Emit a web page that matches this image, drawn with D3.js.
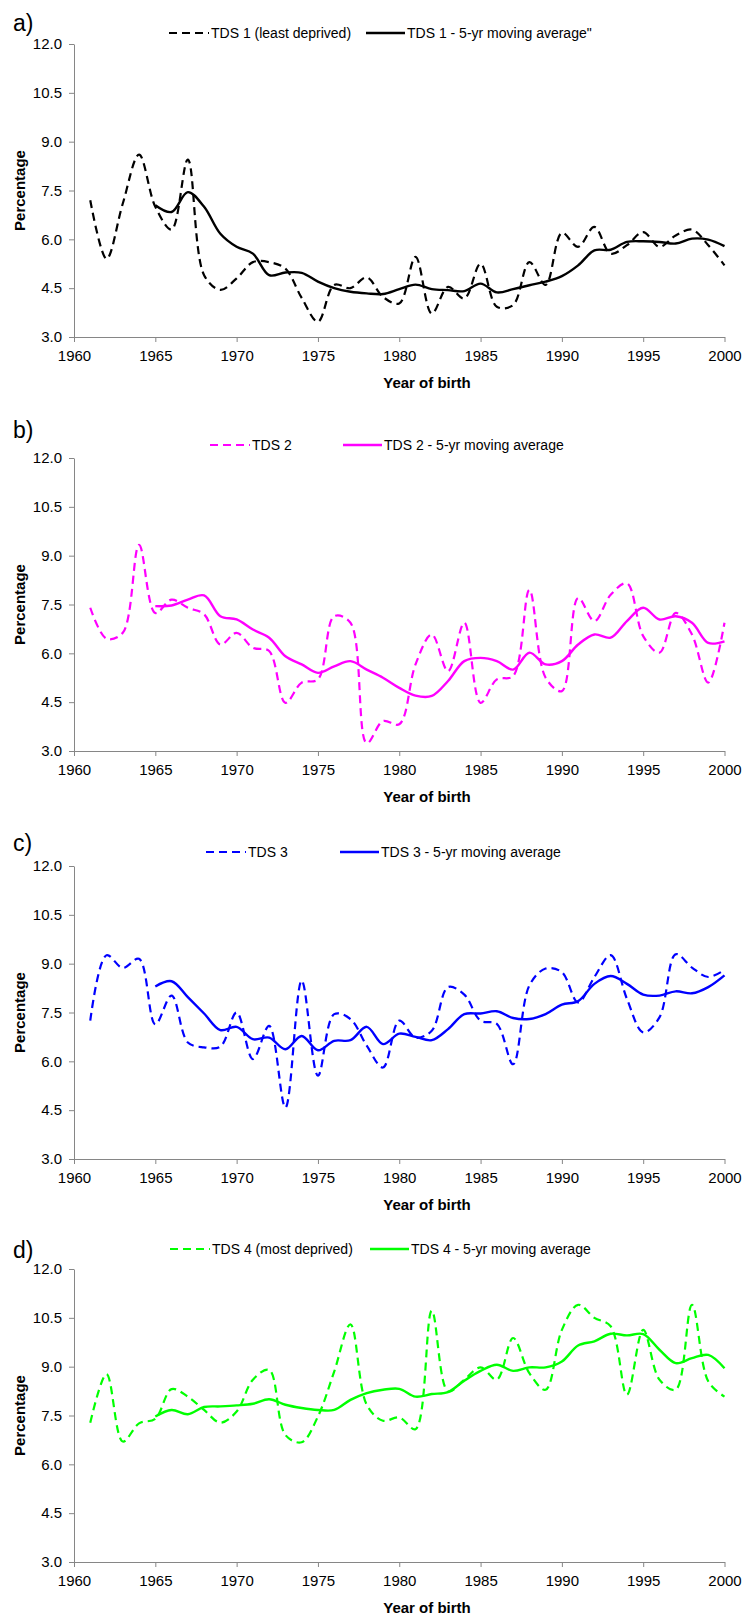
<!DOCTYPE html>
<html>
<head>
<meta charset="utf-8">
<script src="https://cdn.jsdelivr.net/npm/d3@7"></script>
<style>
  body { margin: 0; background: #fff; }
  text { font-family: "Liberation Sans", Arial, sans-serif; }
</style>
</head>
<body>
<div id="chart"></div>
<script>
// Categories
var years = d3.range(1961, 2001);
var maYears = d3.range(1965, 2001);
var xTicks = [1960, 1965, 1970, 1975, 1980, 1985, 1990, 1995, 2000];
var yTicks = [3.0, 4.5, 6.0, 7.5, 9.0, 10.5, 12.0];

// TDS 1 (least deprived)
var tds1 = [7.2, 5.4, 7.1, 8.6, 7.0, 6.3, 8.45, 4.9, 4.45, 4.8,
            5.3, 5.3, 5.1, 4.2, 3.47, 4.6, 4.5, 4.83, 4.23, 4.03,
            5.46, 3.72, 4.54, 4.18, 5.25, 3.93, 3.98, 5.3, 4.6, 6.2,
            5.77, 6.38, 5.56, 5.82, 6.22, 5.77, 6.12, 6.3, 5.82, 5.2];
var tds1Avg = [7.05, 6.84, 7.45, 7.0, 6.17, 5.77, 5.56, 4.9, 4.98, 4.97,
               4.7, 4.5, 4.39, 4.34, 4.32, 4.47, 4.61, 4.47, 4.44, 4.41,
               4.64, 4.37, 4.47, 4.59, 4.7, 4.87, 5.2, 5.66, 5.68, 5.92,
               5.94, 5.92, 5.87, 6.02, 5.99, 5.79];

// TDS 2
var tds2 = [7.4, 6.45, 6.63, 9.33, 7.24, 7.65, 7.4, 7.2, 6.27, 6.63,
            6.17, 6.07, 4.48, 5.1, 5.2, 7.14, 6.94, 3.24, 3.92, 3.82,
            5.66, 6.58, 5.45, 6.94, 4.48, 5.2, 5.3, 7.95, 5.25, 4.84,
            7.7, 6.99, 7.8, 8.15, 6.53, 6.02, 7.24, 6.58, 5.1, 6.94];
var tds2Avg = [7.45, 7.47, 7.65, 7.78, 7.14, 7.04, 6.73, 6.48, 5.91, 5.66,
               5.4, 5.6, 5.76, 5.5, 5.25, 4.94, 4.7, 4.69, 5.15, 5.76,
               5.86, 5.76, 5.5, 6.02, 5.66, 5.76, 6.27, 6.58, 6.48, 6.99,
               7.4, 7.04, 7.14, 6.94, 6.32, 6.37];

// TDS 3
var tds3 = [7.25, 9.26, 8.87, 9.15, 7.14, 8.02, 6.58, 6.43, 6.45, 7.5,
            6.07, 7.09, 4.58, 8.48, 5.56, 7.45, 7.3, 6.48, 5.81, 7.25,
            6.73, 6.94, 8.28, 8.05, 7.25, 7.15, 5.91, 8.33, 8.85, 8.74,
            7.81, 8.59, 9.26, 7.92, 6.89, 7.35, 9.29, 8.88, 8.59, 8.81];
var tds3Avg = [8.3, 8.46, 7.97, 7.47, 6.96, 7.06, 6.68, 6.73, 6.37, 6.78,
               6.34, 6.63, 6.65, 7.06, 6.53, 6.85, 6.75, 6.65, 6.99, 7.45,
               7.47, 7.54, 7.33, 7.3, 7.45, 7.74, 7.85, 8.38, 8.62, 8.38,
               8.05, 8.02, 8.15, 8.09, 8.28, 8.64];

// TDS 4 (most deprived)
var tds4 = [7.28, 8.77, 6.7, 7.26, 7.4, 8.31, 8.08, 7.67, 7.28, 7.62,
            8.6, 8.9, 6.9, 6.68, 7.47, 8.85, 10.3, 7.83, 7.34, 7.44,
            7.08, 10.72, 8.24, 8.6, 8.98, 8.6, 9.88, 8.8, 8.29, 10.13,
            10.9, 10.5, 10.24, 8.14, 10.13, 8.6, 8.29, 10.9, 8.55, 8.08];
var tds4Avg = [7.47, 7.67, 7.54, 7.76, 7.78, 7.81, 7.86, 8.0, 7.83, 7.73,
               7.67, 7.67, 7.98, 8.19, 8.29, 8.32, 8.08, 8.16, 8.22, 8.57,
               8.87, 9.06, 8.87, 8.98, 8.98, 9.16, 9.65, 9.78, 10.01, 9.96,
               10.0, 9.52, 9.11, 9.26, 9.36, 8.95];

var panels = [
  {label: "a)", raw: tds1, avg: tds1Avg, color: "#000000",
   rawName: "TDS 1 (least deprived)", avgName: "TDS 1 - 5-yr moving average\"",
   top: 44, labelY: 23, legY: 33, leg: [169, 366]},
  {label: "b)", raw: tds2, avg: tds2Avg, color: "#ff00ff",
   rawName: "TDS 2", avgName: "TDS 2 - 5-yr moving average",
   top: 458, labelY: 430, legY: 445, leg: [210, 343]},
  {label: "c)", raw: tds3, avg: tds3Avg, color: "#0000ff",
   rawName: "TDS 3", avgName: "TDS 3 - 5-yr moving average",
   top: 866, labelY: 843, legY: 852, leg: [206, 340]},
  {label: "d)", raw: tds4, avg: tds4Avg, color: "#00ff00",
   rawName: "TDS 4 (most deprived)", avgName: "TDS 4 - 5-yr moving average",
   top: 1269, labelY: 1250, legY: 1249, leg: [170, 370]}
];

var svgWidth = 745;
var svgHeight = 1615;
var plotLeft = 74;
var plotRight = 724.5;
var plotHeight = 293;
var axisColor = "#868686";

var svg = d3.select("#chart")
    .append("svg")
    .attr("width", svgWidth)
    .attr("height", svgHeight);

var xScale = d3.scaleLinear()
    .domain([1960, 2000])
    .range([plotLeft, plotRight]);

panels.forEach(function(p) {
    var yScale = d3.scaleLinear()
        .domain([3, 12])
        .range([p.top + plotHeight, p.top]);

    var g = svg.append("g");

    // axes
    var leftAxis = d3.axisLeft(yScale)
        .tickValues(yTicks)
        .tickFormat(d3.format(".1f"))
        .tickSize(5)
        .tickSizeOuter(0)
        .tickPadding(7);
    var bottomAxis = d3.axisBottom(xScale)
        .tickValues(xTicks)
        .tickFormat(d3.format("d"))
        .tickSize(5)
        .tickSizeOuter(0)
        .tickPadding(8);

    var ya = g.append("g")
        .attr("transform", `translate(${plotLeft},0)`)
        .call(leftAxis);
    var xa = g.append("g")
        .attr("transform", `translate(0,${p.top + plotHeight})`)
        .call(bottomAxis);

    [ya, xa].forEach(function(a) {
        a.select(".domain").attr("stroke", axisColor);
        a.selectAll(".tick line").attr("stroke", axisColor);
        a.selectAll(".tick text")
            .attr("fill", "#000")
            .style("font-size", "15px")
            .style("font-family", "'Liberation Sans', Arial, sans-serif");
    });

    // axis titles
    g.append("text")
        .attr("transform", `translate(20,${p.top + plotHeight / 2}) rotate(-90)`)
        .attr("text-anchor", "middle")
        .attr("dy", "0.35em")
        .style("font-size", "15px")
        .style("font-weight", "bold")
        .text("Percentage");
    g.append("text")
        .attr("x", 427)
        .attr("y", p.top + plotHeight + 46)
        .attr("text-anchor", "middle")
        .attr("dy", "0.35em")
        .style("font-size", "15px")
        .style("font-weight", "bold")
        .text("Year of birth");

    // panel label
    g.append("text")
        .attr("x", 13)
        .attr("y", p.labelY)
        .attr("dy", "0.35em")
        .style("font-size", "23px")
        .text(p.label);

    // lines
    var rawLine = d3.line()
        .x(function(d, i) { return xScale(years[i]); })
        .y(function(d) { return yScale(d); })
        .curve(d3.curveCatmullRom.alpha(0.5));
    var avgLine = d3.line()
        .x(function(d, i) { return xScale(maYears[i]); })
        .y(function(d) { return yScale(d); })
        .curve(d3.curveCatmullRom.alpha(0.5));

    g.append("path")
        .datum(p.raw)
        .attr("d", rawLine)
        .attr("fill", "none")
        .attr("stroke", p.color)
        .attr("stroke-width", 2.2)
        .attr("stroke-dasharray", "8,5");
    g.append("path")
        .datum(p.avg)
        .attr("d", avgLine)
        .attr("fill", "none")
        .attr("stroke", p.color)
        .attr("stroke-width", 2.4);

    // legend
    var lg = g.append("g").attr("transform", `translate(0,${p.legY})`);
    lg.append("line")
        .attr("x1", p.leg[0]).attr("x2", p.leg[0] + 40)
        .attr("stroke", p.color).attr("stroke-width", 2.2)
        .attr("stroke-dasharray", "8,5");
    lg.append("text")
        .attr("x", p.leg[0] + 42)
        .attr("dy", "0.35em")
        .style("font-size", "14px")
        .text(p.rawName);
    lg.append("line")
        .attr("x1", p.leg[1]).attr("x2", p.leg[1] + 39)
        .attr("stroke", p.color).attr("stroke-width", 2.4);
    lg.append("text")
        .attr("x", p.leg[1] + 41)
        .attr("dy", "0.35em")
        .style("font-size", "14px")
        .text(p.avgName);
});
</script>
</body>
</html>
